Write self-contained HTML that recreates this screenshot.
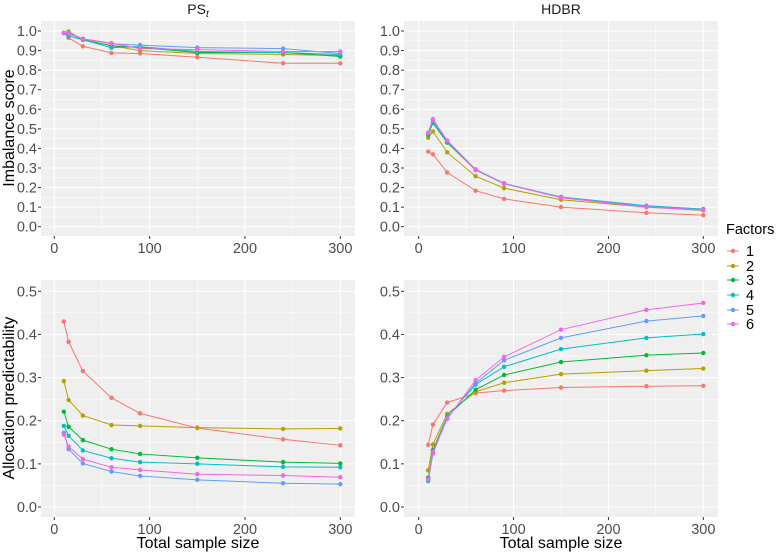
<!DOCTYPE html>
<html><head><meta charset="utf-8"><style>
html,body{margin:0;padding:0;background:#fff;}
svg{display:block;font-family:"Liberation Sans",sans-serif;}
</style></head><body>
<svg id="c" width="778" height="553" viewBox="0 0 778 553"></svg>
<script>
const xValues=[10,15,30,60,90,150,240,300];
const factorLabels=["1","2","3","4","5","6"];
const colors=["#F8766D","#B79F00","#00BA38","#00BFC4","#619CFF","#F564E3"];
const psImbalance=[
[.99,.965,.922,.888,.885,.866,.835,.835],
[.99,.998,.955,.925,.9,.885,.88,.875],
[.99,.99,.955,.925,.915,.89,.89,.87],
[.99,.975,.955,.915,.92,.895,.89,.88],
[.99,.985,.96,.935,.928,.915,.91,.885],
[.99,.99,.96,.938,.91,.905,.895,.895]];
const hdbrImbalance=[
[.384,.37,.277,.184,.142,.1,.071,.059],
[.455,.487,.38,.258,.197,.138,.1,.083],
[.47,.53,.43,.29,.22,.15,.105,.09],
[.475,.535,.435,.29,.22,.152,.107,.09],
[.48,.545,.44,.292,.222,.15,.104,.088],
[.48,.55,.44,.293,.22,.148,.1,.085]];
const psPredict=[
[.43,.383,.315,.253,.217,.183,.157,.143],
[.292,.248,.212,.19,.188,.184,.181,.182],
[.221,.186,.155,.134,.123,.114,.104,.101],
[.188,.165,.131,.113,.104,.1,.093,.092],
[.172,.134,.101,.082,.072,.063,.055,.053],
[.168,.14,.111,.092,.086,.076,.073,.069]];
const hdbrPredict=[
[.144,.191,.242,.264,.27,.277,.28,.281],
[.085,.145,.216,.267,.288,.308,.316,.321],
[.068,.132,.21,.272,.306,.336,.352,.357],
[.06,.126,.209,.284,.325,.366,.392,.401],
[.064,.124,.207,.287,.34,.392,.431,.443],
[.064,.128,.204,.294,.348,.411,.457,.473]];
const xTicks=[0,100,200,300];
const yTicksTop=[0,.1,.2,.3,.4,.5,.6,.7,.8,.9,1.0];
const yTicksBot=[0,.1,.2,.3,.4,.5];

const NS="http://www.w3.org/2000/svg";
const svg=document.getElementById('c');
function mk(tag,attrs,parent){const e=document.createElementNS(NS,tag);for(const k in attrs)e.setAttribute(k,attrs[k]);(parent||svg).appendChild(e);return e;}

const panels=[
{name:'ps-imbalance',x0:41,x1:355,y0:21,y1:236,xz:54.3,xs:340.3,yz:226.7,yv:31,ymax:1,data:psImbalance,ticks:yTicksTop},
{name:'hdbr-imbalance',x0:404,x1:718,y0:21,y1:236,xz:418.7,xs:703.3,yz:226.7,yv:31,ymax:1,data:hdbrImbalance,ticks:yTicksTop},
{name:'ps-predictability',x0:41,x1:355,y0:280,y1:517,xz:54.3,xs:340.3,yz:507,yv:291.3,ymax:.5,data:psPredict,ticks:yTicksBot},
{name:'hdbr-predictability',x0:404,x1:718,y0:280,y1:517,xz:418.7,xs:703.3,yz:507,yv:291.3,ymax:.5,data:hdbrPredict,ticks:yTicksBot}];

panels.forEach(p=>{
  const g=mk('g',{});
  
  
  const sx=v=>p.xz+(p.xs-p.xz)*v/300;
  const sy=v=>p.yz-(p.yz-p.yv)*v/p.ymax;
  mk('rect',{x:p.x0,y:p.y0,width:p.x1-p.x0,height:p.y1-p.y0,fill:'#EFEFEF'},g);
  [50,150,250].forEach(v=>mk('line',{x1:sx(v),x2:sx(v),y1:p.y0,y2:p.y1,stroke:'#fff','stroke-width':.5},g));
  for(let i=0;i<p.ticks.length-1;i++){const v=(p.ticks[i]+p.ticks[i+1])/2;mk('line',{x1:p.x0,x2:p.x1,y1:sy(v),y2:sy(v),stroke:'#fff','stroke-width':.5},g);}
  xTicks.forEach(v=>{mk('line',{x1:sx(v),x2:sx(v),y1:p.y0,y2:p.y1,stroke:'#fff','stroke-width':1},g);
    mk('line',{x1:sx(v),x2:sx(v),y1:p.y1,y2:p.y1+3,stroke:'#333','stroke-width':1},g);
    const t=mk('text',{x:sx(v),y:p.y1+17,'text-anchor':'middle','font-size':14.5,fill:'#4d4d4d'},g);t.textContent=v;
    });
  p.ticks.forEach(v=>{mk('line',{x1:p.x0,x2:p.x1,y1:sy(v),y2:sy(v),stroke:'#fff','stroke-width':1},g);
    mk('line',{x1:p.x0-3,x2:p.x0,y1:sy(v),y2:sy(v),stroke:'#333','stroke-width':1},g);
    const t=mk('text',{x:p.x0-4,y:sy(v)+5,'text-anchor':'end','font-size':14.5,fill:'#4d4d4d'},g);t.textContent=v.toFixed(1);
    });
  p.data.forEach((s,k)=>{
    const pl=mk('polyline',{points:s.map((v,i)=>sx(xValues[i])+','+sy(v)).join(' '),fill:'none',stroke:colors[k],'stroke-width':1},g);
    
    
    s.forEach((v,i)=>{const c=mk('circle',{cx:sx(xValues[i]),cy:sy(v),r:2.2,fill:colors[k]},g);
      
      });
  });
});
function txt(s,attrs,name){const t=mk('text',attrs);t.textContent=s;return t;}
const ps=txt('PS',{x:198,y:14,'text-anchor':'middle','font-size':14,fill:'#1a1a1a'},'title-ps');
const sub=mk('tspan',{'font-size':10,'font-style':'italic',dy:3},ps);sub.textContent='t';
txt('HDBR',{x:561,y:14,'text-anchor':'middle','font-size':14,fill:'#1a1a1a'},'title-hdbr');
txt('Imbalance score',{x:14,y:128,'text-anchor':'middle','font-size':16,fill:'#000',transform:'rotate(-90 14 128)'},'y-axis-title-imbalance');
txt('Allocation predictability',{x:14,y:398,'text-anchor':'middle','font-size':16,fill:'#000',transform:'rotate(-90 14 398)'},'y-axis-title-predictability');
txt('Total sample size',{x:198,y:548,'text-anchor':'middle','font-size':16,fill:'#000'},'x-axis-title-left');
txt('Total sample size',{x:561,y:548,'text-anchor':'middle','font-size':16,fill:'#000'},'x-axis-title-right');
txt('Factors',{x:726,y:234,'font-size':14.5,fill:'#000'},'legend-title');
const ly=[251,266,280,295,310,324];
factorLabels.forEach((f,k)=>{
  const g=mk('g',{});
  
  
  mk('line',{x1:727,x2:739,y1:ly[k],y2:ly[k],stroke:colors[k],'stroke-width':1},g);
  mk('circle',{cx:733,cy:ly[k],r:2.2,fill:colors[k]},g);
  const t=mk('text',{x:746,y:ly[k]+5,'font-size':14.5,fill:'#000'},g);t.textContent=f;
});
</script>
</body></html>
